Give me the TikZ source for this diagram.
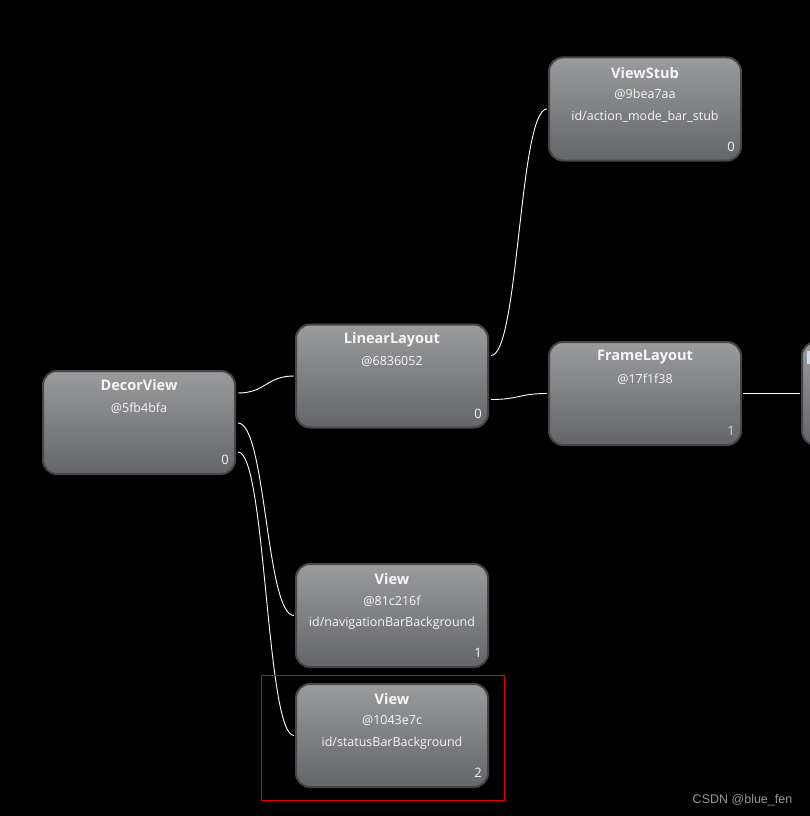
\documentclass[tikz,border=0pt]{standalone}
\usepackage{fontspec}
\setmainfont{Open Sans}
\newfontfamily\wmfont{Liberation Sans}
\definecolor{boxtop}{RGB}{154,155,157}
\definecolor{boxbot}{RGB}{100,101,104}
\definecolor{boxedge}{RGB}{70,70,72}
\definecolor{txt}{RGB}{246,246,246}
\definecolor{txtb}{RGB}{200,220,248}
\definecolor{hl}{RGB}{230,0,0}
\definecolor{wmgrey}{RGB}{150,150,150}
\tikzset{
  box/.style={draw=boxedge, line width=2pt, rounded corners=14pt,
    minimum width=192pt, minimum height=103pt, top color=boxtop, bottom color=boxbot,
    inner sep=0pt, shading angle=0},
  ttl/.style={text=txt, font=\fontsize{14.5}{16}\selectfont\bfseries, inner sep=0pt},
  sub/.style={text=txt, font=\fontsize{12.5}{14}\selectfont, inner sep=0pt},
  idx/.style={text=txt, font=\fontsize{13}{15}\selectfont, inner sep=0pt},
  wire/.style={draw=white, line width=0.9pt},
}
\begin{document}
\begin{tikzpicture}[x=1pt,y=-1pt]
\clip (0,0) rectangle (810,816);
\fill[black] (0,0) rectangle (810,816);
\useasboundingbox (0,0) rectangle (810,816);

% nodes
\node[box] (dv) at (139,422.5) {};
\node[ttl] (dvT) at ([yshift=-15.5pt]dv.north) {DecorView};
\node[sub] (dvA) at ([yshift=-38pt]dv.north) {@5fb4bfa};
\node[idx] (dvI) at ([xshift=-11pt,yshift=15pt]dv.south east) {0};

\node[box] (ll) at (392,376) {};
\node[ttl] (llT) at ([yshift=-16.5pt]ll.north) {LinearLayout};
\node[sub] (llA) at ([yshift=-38.5pt]ll.north) {@6836052};
\node[idx] (llI) at ([xshift=-11pt,yshift=15pt]ll.south east) {0};

\node[box] (vs) at (645,109) {};
\node[ttl] (vsT) at ([yshift=-16.5pt]vs.north) {ViewStub};
\node[sub] (vsA) at ([yshift=-38pt]vs.north) {@9bea7aa};
\node[sub] (vsI2) at ([yshift=-60pt]vs.north) {id/action\_mode\_bar\_stub};
\node[idx] (vsI) at ([xshift=-11pt,yshift=15pt]vs.south east) {0};

\node[box] (fl) at (645,393.5) {};
\node[ttl] (flT) at ([yshift=-16.5pt]fl.north) {FrameLayout};
\node[sub] (flA) at ([yshift=-38.5pt]fl.north) {@17f1f38};
\node[idx,text=txtb] (flI) at ([xshift=-11pt,yshift=15pt]fl.south east) {1};

\node[box] (nx) at (898,393.5) {};
\fill[txtb] (807,351) rectangle (809.5,364);

\node[box] (nv) at (392,615.5) {};
\node[ttl] (nvT) at ([yshift=-16.5pt]nv.north) {View};
\node[sub] (nvA) at ([yshift=-38pt]nv.north) {@81c216f};
\node[sub] (nvI2) at ([yshift=-60.5pt]nv.north) {id/navigationBarBackground};
\node[idx] (nvI) at ([xshift=-11pt,yshift=15pt]nv.south east) {1};

\node[box] (sb) at (392,735.5) {};
\node[ttl] (sbT) at ([yshift=-16.5pt]sb.north) {View};
\node[sub] (sbA) at ([yshift=-38pt]sb.north) {@1043e7c};
\node[sub] (sbI2) at ([yshift=-60.5pt]sb.north) {id/statusBarBackground};
\node[idx] (sbI) at ([xshift=-11pt,yshift=15pt]sb.south east) {2};

% connectors
\draw[wire] ([xshift=2pt,yshift=-23pt]dv.north east) .. controls +(28,0) and +(-28,0) .. ([xshift=-1pt]ll.west);
\draw[wire] ([xshift=2pt,yshift=-53pt]dv.north east) .. controls +(28,0) and +(-28,0) .. ([xshift=-1pt]nv.west);
\draw[wire] ([xshift=2pt,yshift=-82pt]dv.north east) .. controls +(28,0) and +(-28,0) .. ([xshift=-1pt]sb.west);
\draw[wire] ([xshift=2pt,yshift=-32pt]ll.north east) .. controls +(28,0) and +(-28,0) .. ([xshift=-1pt]vs.west);
\draw[wire] ([xshift=2pt,yshift=-76pt]ll.north east) .. controls +(28,0) and +(-28,0) .. ([xshift=-1pt]fl.west);
\draw[wire] ([xshift=1pt]fl.east) -- ([xshift=-1pt]nx.west);

% highlight
\draw[hl, line width=1pt] (261.5,675.5) rectangle (504.5,800.5);

% watermark
\node[text=wmgrey, font=\wmfont\fontsize{12.5}{14}\selectfont, inner sep=0pt] (wm) at (742.5,800) {CSDN @blue\_fen};
\end{tikzpicture}
\end{document}
